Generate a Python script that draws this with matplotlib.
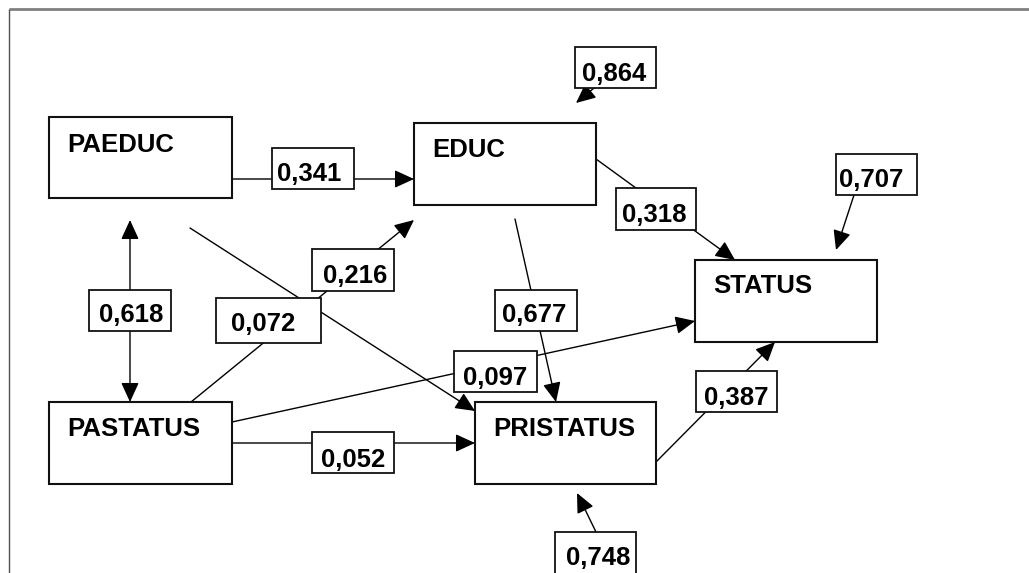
import matplotlib.pyplot as plt
from matplotlib.patches import Rectangle, FancyArrowPatch

# variables of the path model
node_names = ["PAEDUC", "EDUC", "STATUS", "PASTATUS", "PRISTATUS"]

# path coefficients (text shown in the small boxes)
coef_labels = ["0,341", "0,216", "0,618", "0,072", "0,097", "0,052",
               "0,677", "0,387", "0,748", "0,864", "0,318", "0,707"]

# ---- layout (pixel space, y grows downwards) ----
node_boxes = {  # x0, y0, x1, y1, text x, text baseline
    "PAEDUC": (49, 117, 232, 198, 67, 152),
    "EDUC": (414, 123, 596, 205, 432, 157),
    "STATUS": (695, 260, 877, 342, 713, 293),
    "PASTATUS": (49, 402, 232, 484, 67, 436),
    "PRISTATUS": (475, 402, 656, 484, 493, 436),
}
coef_boxes = {
    "0,341": (272, 148, 354, 189, 277, 181),
    "0,216": (312, 249, 394, 291, 323, 283),
    "0,618": (89, 290, 171, 331, 99, 322),
    "0,072": (216, 298, 321, 343, 231, 331),
    "0,097": (454, 351, 537, 392, 463, 385),
    "0,052": (312, 432, 394, 473, 321, 467),
    "0,677": (495, 290, 577, 331, 502, 322),
    "0,387": (696, 371, 777, 412, 704, 405),
    "0,748": (555, 532, 636, 575, 566, 565),
    "0,864": (575, 47, 656, 88, 582, 81),
    "0,318": (616, 188, 696, 230, 622, 222),
    "0,707": (836, 154, 917, 195, 839, 187),
}
# edges: start, end, style
edges = [
    ((232, 179), (414, 179), "-|>"),   # PAEDUC -> EDUC
    ((130, 220), (130, 402), "<|-|>"),  # PAEDUC <-> PASTATUS
    ((190, 228), (475, 411), "-|>"),   # PAEDUC -> PRISTATUS
    ((191, 402), (414, 220), "-|>"),   # PASTATUS -> EDUC
    ((232, 422), (695, 321), "-|>"),   # PASTATUS -> STATUS
    ((232, 443), (475, 443), "-|>"),   # PASTATUS -> PRISTATUS
    ((515, 219), (556, 402), "-|>"),   # EDUC -> PRISTATUS
    ((596, 159), (735, 260), "-|>"),   # EDUC -> STATUS
    ((656, 462), (775, 342), "-|>"),   # PRISTATUS -> STATUS
    ((854, 195), (836, 250), "-|>"),   # residual STATUS
    ((596, 532), (577, 493), "-|>"),   # residual PRISTATUS
    ((594, 88), (576, 103), "-|>"),    # residual EDUC
]

W, H = 1029, 573
fig = plt.figure(figsize=(W / 100, H / 100), dpi=100)
ax = fig.add_axes([0, 0, 1, 1])
ax.set_xlim(0, W)
ax.set_ylim(H, 0)
ax.axis("off")

# frame (top and left only)
ax.plot([9, W], [9, 9], color="#808080", lw=2, solid_capstyle="butt")
ax.plot([9, 9], [9, H], color="#505050", lw=1, solid_capstyle="butt")

for (p0, p1, style) in edges:
    arr = FancyArrowPatch(p0, p1, arrowstyle=f"{style},head_length=12,head_width=5.5",
                          color="black", lw=1.0, shrinkA=0, shrinkB=0, zorder=1)
    ax.add_patch(arr)

font = dict(family=["Liberation Sans", "DejaVu Sans"], fontweight="bold", fontsize=18.5)

for name in node_names:
    x0, y0, x1, y1, tx, ty = node_boxes[name]
    ax.add_patch(Rectangle((x0, y0), x1 - x0, y1 - y0, facecolor="white",
                           edgecolor="#111111", lw=1.5, zorder=2))
    ax.text(tx, ty, name, ha="left", va="baseline", zorder=3, **font)

for lab in coef_labels:
    x0, y0, x1, y1, tx, ty = coef_boxes[lab]
    ax.add_patch(Rectangle((x0, y0), x1 - x0, y1 - y0, facecolor="white",
                           edgecolor="#111111", lw=1.3, zorder=2))
    ax.text(tx, ty, lab, ha="left", va="baseline", zorder=3, **font)

fig.savefig("out.png", dpi=100, facecolor="white")
